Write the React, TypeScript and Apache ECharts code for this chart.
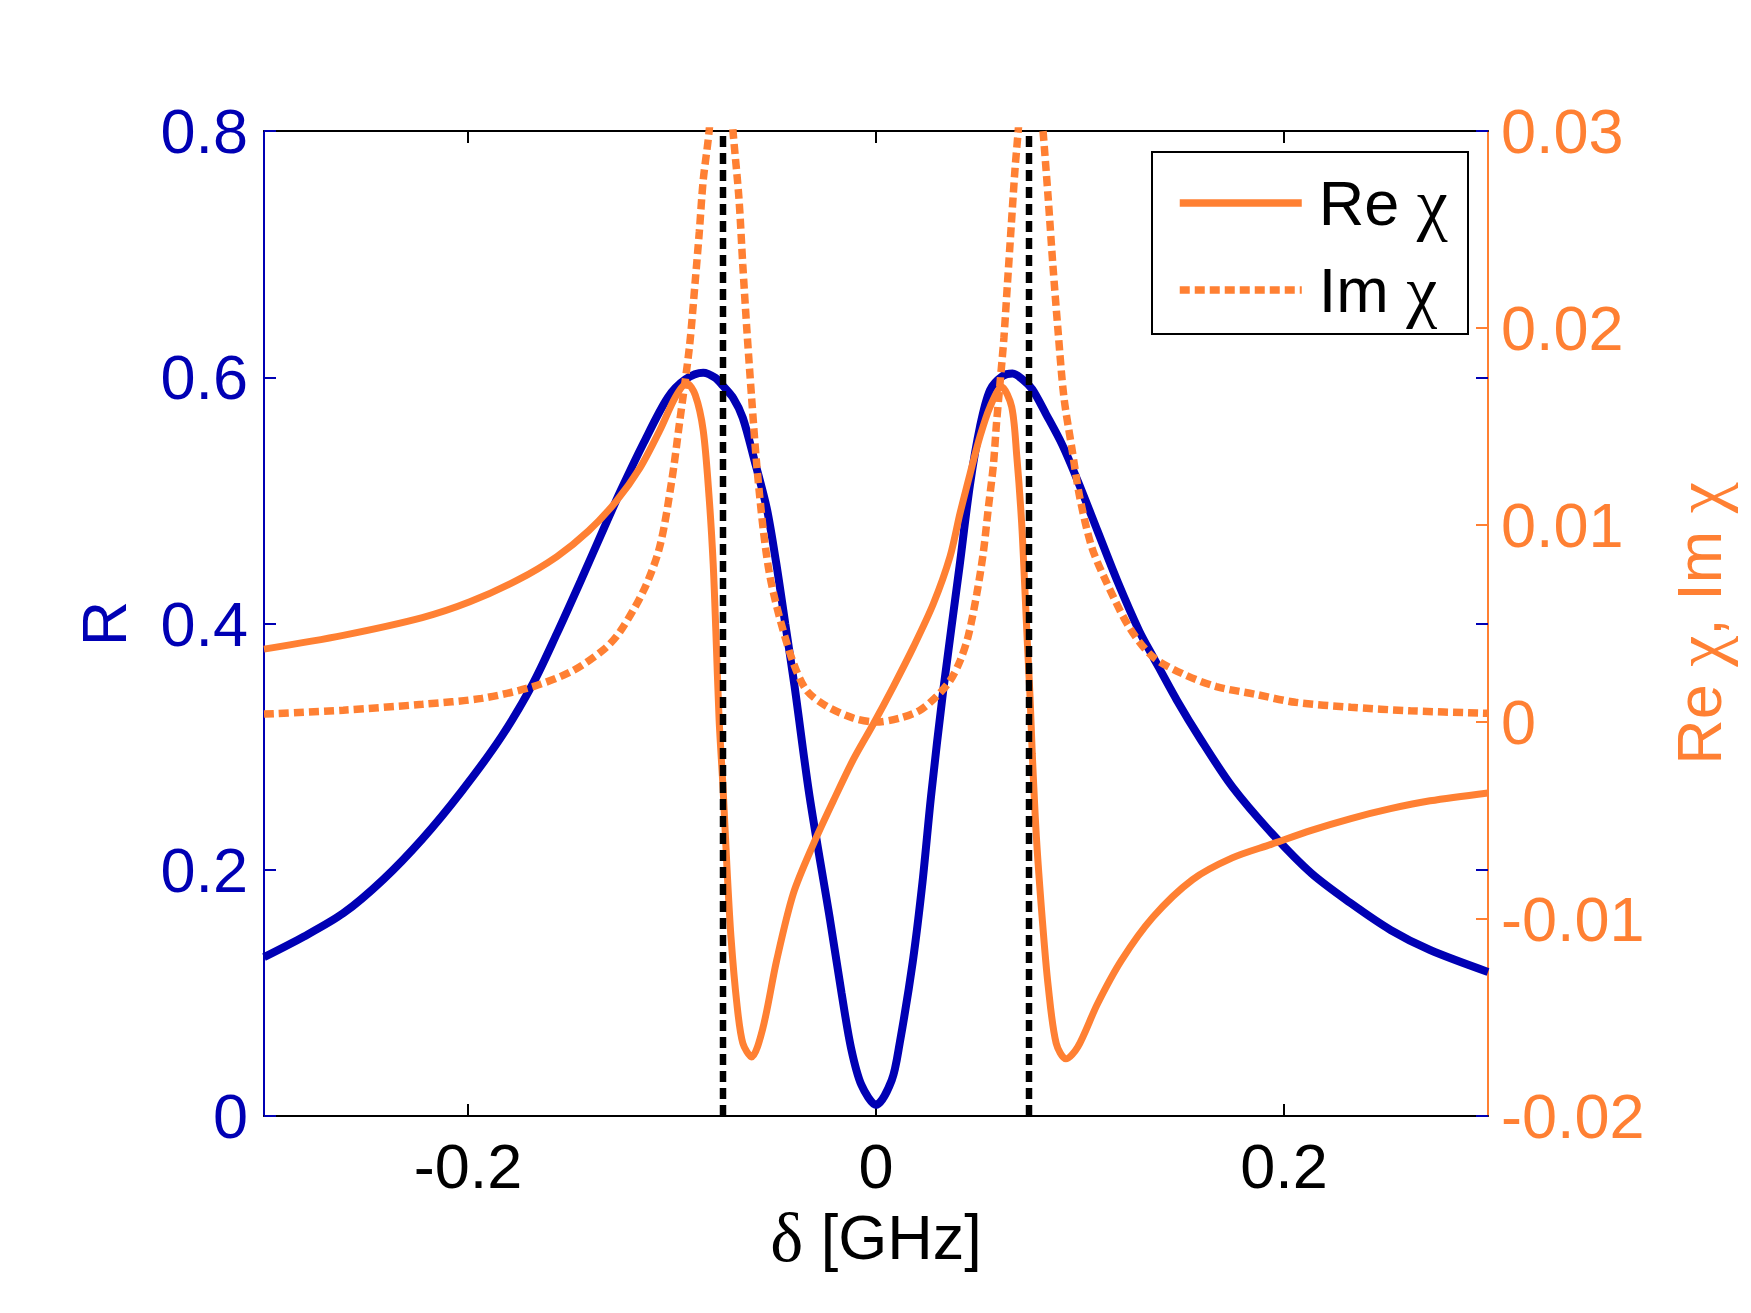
import React, { useEffect, useRef } from "react";
import * as echarts from "echarts";

// ---- data ----
const xTicks = [-0.2, 0, 0.2];
const resonanceLines = [-0.075, 0.075];

const reflectivity: [number, number][] = [
  [-0.3, 0.129], [-0.2806, 0.1456], [-0.2612, 0.1646], [-0.2418, 0.1917], [-0.2224, 0.225],
  [-0.203, 0.264], [-0.1836, 0.3081], [-0.1681, 0.3514], [-0.1564, 0.392], [-0.1448, 0.4345],
  [-0.1332, 0.478], [-0.1254, 0.507], [-0.1138, 0.547], [-0.1021, 0.5834], [-0.0934, 0.5983],
  [-0.0847, 0.6037], [-0.0789, 0.5997], [-0.075, 0.593], [-0.0701, 0.5834], [-0.0653, 0.567],
  [-0.0595, 0.532], [-0.0536, 0.494], [-0.049, 0.45], [-0.0445, 0.40], [-0.04, 0.35],
  [-0.0326, 0.26], [-0.0226, 0.16], [-0.0169, 0.10], [-0.0122, 0.055], [-0.0071, 0.025],
  [0.0, 0.009], [0.0077, 0.029], [0.0116, 0.059], [0.018, 0.125], [0.0228, 0.19],
  [0.027, 0.26], [0.0329, 0.345], [0.041, 0.447], [0.046, 0.512], [0.051, 0.56],
  [0.0559, 0.5896], [0.0621, 0.601], [0.0669, 0.603], [0.0718, 0.5983], [0.0766, 0.5902],
  [0.0834, 0.5699], [0.0912, 0.5455], [0.0989, 0.5158], [0.1086, 0.4751], [0.1183, 0.4345],
  [0.129, 0.394], [0.1358, 0.373], [0.1474, 0.3379], [0.1591, 0.306], [0.1746, 0.2675],
  [0.194, 0.2296], [0.2134, 0.1971], [0.2328, 0.1727], [0.2522, 0.1511], [0.2716, 0.1348],
  [0.3, 0.117],
];

const reChi: [number, number][] = [
  [-0.3, 0.0037], [-0.2612, 0.0044], [-0.2224, 0.0053], [-0.1991, 0.0061], [-0.1758, 0.0072],
  [-0.1564, 0.0084], [-0.1409, 0.0097], [-0.1274, 0.0112], [-0.1157, 0.0129], [-0.106, 0.0148],
  [-0.0983, 0.0165], [-0.0928, 0.0172], [-0.0886, 0.0166], [-0.0847, 0.0148], [-0.0818, 0.0114],
  [-0.0798, 0.008], [-0.0785, 0.0046], [-0.0769, 0.0001], [-0.075, -0.0033], [-0.073, -0.0075],
  [-0.0711, -0.0109], [-0.0682, -0.0143], [-0.0653, -0.0163], [-0.061, -0.017], [-0.0556, -0.0156],
  [-0.0487, -0.0121], [-0.0405, -0.0087], [-0.0307, -0.0062], [-0.0209, -0.004], [-0.0111, -0.0019],
  [-0.0013, -0.0001], [0.0085, 0.0018], [0.0183, 0.0038], [0.0281, 0.006], [0.0363, 0.0084],
  [0.0412, 0.0106], [0.0461, 0.0126], [0.051, 0.0145], [0.0559, 0.016], [0.0616, 0.017],
  [0.0665, 0.016], [0.069, 0.0135], [0.0714, 0.0101], [0.073, 0.0067], [0.0742, 0.004],
  [0.0755, 0.0013], [0.0766, -0.0016], [0.0786, -0.0058], [0.0815, -0.01], [0.0844, -0.0134],
  [0.0883, -0.0163], [0.0931, -0.0171], [0.0989, -0.0165], [0.1086, -0.0143], [0.1203, -0.0121],
  [0.1358, -0.0099], [0.1552, -0.008], [0.1746, -0.0069], [0.194, -0.0062], [0.2134, -0.0055],
  [0.2328, -0.0049], [0.2522, -0.0044], [0.2716, -0.004], [0.3, -0.0036],
];

const imChi: [number, number][] = [
  [-0.3, 0.0004], [-0.2612, 0.0006], [-0.2224, 0.0009], [-0.1933, 0.0012], [-0.1681, 0.0018],
  [-0.1487, 0.0026], [-0.1332, 0.0037], [-0.1254, 0.0046], [-0.1138, 0.0067], [-0.106, 0.0089],
  [-0.1002, 0.0122], [-0.0963, 0.0152], [-0.0915, 0.019], [-0.0886, 0.0224], [-0.0866, 0.0249],
  [-0.0847, 0.0275], [-0.0818, 0.03], [-0.079, 0.034], [-0.076, 0.036], [-0.073, 0.034],
  [-0.0701, 0.03], [-0.0672, 0.0266], [-0.0653, 0.0232], [-0.0633, 0.0199], [-0.061, 0.0165],
  [-0.0585, 0.0131], [-0.0552, 0.0097], [-0.052, 0.0074], [-0.047, 0.0052], [-0.0405, 0.003],
  [-0.034, 0.0016], [-0.0242, 0.0008], [-0.0111, 0.0002], [0.0, 0.0], [0.0118, 0.0002],
  [0.0216, 0.0006], [0.0297, 0.0013], [0.0363, 0.0021], [0.0412, 0.0031], [0.0453, 0.0044],
  [0.0494, 0.0065], [0.0526, 0.0086], [0.0551, 0.0109], [0.0575, 0.013], [0.0591, 0.0152],
  [0.0608, 0.0172], [0.0627, 0.0195], [0.0644, 0.0222], [0.0663, 0.0252], [0.0681, 0.028],
  [0.0697, 0.03], [0.0727, 0.034], [0.0757, 0.036], [0.0788, 0.034], [0.0819, 0.03],
  [0.0844, 0.0266], [0.0867, 0.0232], [0.0892, 0.0199], [0.0921, 0.0165], [0.096, 0.0139],
  [0.0999, 0.0114], [0.1057, 0.0089], [0.1125, 0.0072], [0.1242, 0.0048], [0.1358, 0.0033],
  [0.1513, 0.0024], [0.1668, 0.0018], [0.1862, 0.0014], [0.2056, 0.001], [0.2328, 0.00075],
  [0.2619, 0.00057], [0.3, 0.00044],
];

// ---- styles ----
const BLUE = "#0000B4";
const ORANGE = "#FF8033";
const SANS = "Liberation Sans";
const SERIF = "Liberation Serif";
const FS = 63;
const GS = 70;

const fmt = (v: number) => String(parseFloat(v.toFixed(3)));

export default function App() {
  const ref = useRef<HTMLDivElement>(null);
  useEffect(() => {
    if (!ref.current) return;
    const chart = echarts.init(ref.current, undefined, { renderer: "svg" });
    const tick = (color: string, customValues?: number[]) => ({
      show: true,
      inside: true,
      length: 12,
      ...(customValues ? { customValues } : {}),
      lineStyle: { color, width: 2 },
    });
    const option: any = {
      animation: false,
      backgroundColor: "#fff",
      grid: { left: 264, top: 131, width: 1224, height: 985, containLabel: false, outerBoundsMode: "none" },
      graphic: [
        {
          type: "rect",
          z: 3,
          shape: { x: 1152, y: 152, width: 316, height: 182 },
          style: { fill: "#fff", stroke: "#000", lineWidth: 2 },
        },
      ],
      legend: {
        data: ["Re χ", "Im χ"],
        orient: "vertical",
        left: 1176,
        top: 168,
        padding: 0,
        itemWidth: 122,
        itemHeight: 14,
        itemGap: 17,
        selectedMode: false,
        z: 5,
        itemStyle: { opacity: 0 },
        lineStyle: { width: 7.5, cap: "butt" },
        formatter: (name: string) => name.replace(/^(\w+) χ$/, "{s|$1 }{g|χ}"),
        textStyle: {
          padding: [0, 0, 0, 12],
          rich: {
            s: { fontFamily: SANS, fontSize: FS, color: "#000", lineHeight: 66 },
            g: { fontFamily: SERIF, fontSize: GS, color: "#000", lineHeight: 66 },
          },
        },
      },
      xAxis: [
        {
          type: "value",
          position: "bottom",
          min: -0.3,
          max: 0.3,
          axisLine: { show: true, onZero: false, lineStyle: { color: "#000", width: 2 } },
          axisTick: tick("#000", xTicks),
          axisLabel: { customValues: xTicks, formatter: fmt, color: "#000", fontFamily: SANS, fontSize: FS, margin: 18 },
          splitLine: { show: false },
          name: "{g|δ}{s| [GHz]}",
          nameLocation: "middle",
          nameGap: 86,
          nameTextStyle: {
            rich: {
              g: { fontFamily: SERIF, fontSize: GS, color: "#000" },
              s: { fontFamily: SANS, fontSize: FS, color: "#000" },
            },
          },
        },
        {
          type: "value",
          position: "top",
          min: -0.3,
          max: 0.3,
          axisLine: { show: true, onZero: false, lineStyle: { color: "#000", width: 2 } },
          axisTick: tick("#000", xTicks),
          axisLabel: { show: false },
          splitLine: { show: false },
        },
      ],
      yAxis: [
        {
          type: "value",
          position: "left",
          min: 0,
          max: 0.8,
          interval: 0.2,
          axisLine: { show: true, onZero: false, lineStyle: { color: BLUE, width: 2 } },
          axisTick: tick(BLUE),
          axisLabel: { formatter: fmt, color: BLUE, fontFamily: SANS, fontSize: FS, margin: 16 },
          splitLine: { show: false },
          name: "R",
          nameLocation: "middle",
          nameRotate: 90,
          nameGap: 129,
          nameTextStyle: { color: BLUE, fontFamily: SANS, fontSize: FS },
        },
        {
          type: "value",
          position: "right",
          min: -0.02,
          max: 0.03,
          interval: 0.01,
          axisLine: { show: true, onZero: false, lineStyle: { color: ORANGE, width: 2 } },
          axisTick: tick(ORANGE),
          axisLabel: { formatter: fmt, color: ORANGE, fontFamily: SANS, fontSize: FS, margin: 13 },
          splitLine: { show: false },
          name: "{s|Re }{g|χ}{s|, Im }{g|χ}",
          nameLocation: "middle",
          nameRotate: 90,
          nameGap: 176,
          nameTextStyle: {
            color: ORANGE,
            rich: {
              s: { fontFamily: SANS, fontSize: FS, color: ORANGE },
              g: { fontFamily: SERIF, fontSize: GS, color: ORANGE },
            },
          },
        },
        {
          type: "value",
          position: "right",
          min: 0,
          max: 0.8,
          interval: 0.2,
          axisLine: { show: false, onZero: false },
          axisTick: tick(BLUE),
          axisLabel: { show: false },
          splitLine: { show: false },
        },
      ],
      series: [
        {
          name: "R",
          type: "line",
          xAxisIndex: 0,
          yAxisIndex: 0,
          data: reflectivity,
          symbol: "none",
          smooth: 0.3,
          lineStyle: { color: BLUE, width: 8 },
          itemStyle: { color: BLUE },
        },
        {
          name: "Re χ",
          type: "line",
          xAxisIndex: 0,
          yAxisIndex: 1,
          data: reChi,
          symbol: "none",
          smooth: 0.3,
          lineStyle: { color: ORANGE, width: 7 },
          itemStyle: { color: ORANGE },
        },
        {
          name: "Im χ",
          type: "line",
          xAxisIndex: 0,
          yAxisIndex: 1,
          data: imChi,
          symbol: "none",
          smooth: 0.3,
          lineStyle: { color: ORANGE, width: 7.5, type: [10, 5], cap: "butt" },
          itemStyle: { color: ORANGE },
        },
        ...resonanceLines.map((x, i) => ({
          name: "resonance" + i,
          type: "line",
          xAxisIndex: 0,
          yAxisIndex: 0,
          data: [
            [x, 0],
            [x, 0.8],
          ],
          symbol: "none",
          lineStyle: { color: "#000", width: 6.5, type: [11, 6], cap: "butt" },
          itemStyle: { color: "#000" },
        })),
      ],
    };
    chart.setOption(option);
    return () => chart.dispose();
  }, []);
  return (
    <div
      ref={ref}
      style={{ position: "fixed", left: 0, top: 0, width: 1751, height: 1313, background: "#fff" }}
    />
  );
}
